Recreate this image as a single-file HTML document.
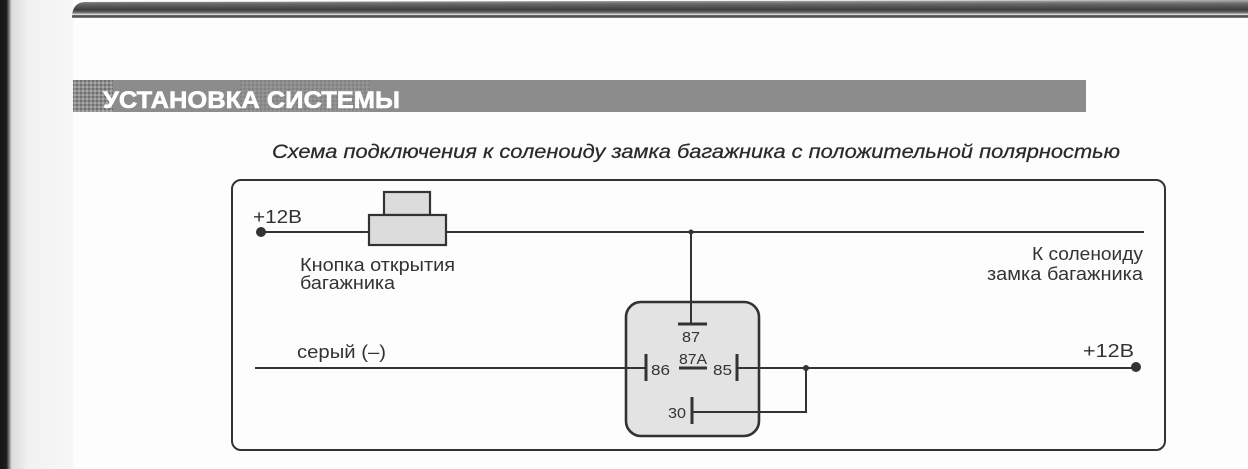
<!DOCTYPE html>
<html><head><meta charset="utf-8"><style>
html,body{margin:0;padding:0;background:#fdfdfd;}
svg{display:block;}
text{font-family:"Liberation Sans","DejaVu Sans",sans-serif;}
</style></head><body>
<svg width="1248" height="469" viewBox="0 0 1248 469" xmlns="http://www.w3.org/2000/svg">
<defs>
<linearGradient id="lg" x1="0" x2="1" y1="0" y2="0">
<stop offset="0" stop-color="#151515"/>
<stop offset="0.09" stop-color="#1e1e1e"/>
<stop offset="0.16" stop-color="#dcdcdc"/>
<stop offset="0.4" stop-color="#f2f2f2"/>
<stop offset="1" stop-color="#f6f6f6"/>
</linearGradient>
<linearGradient id="tg" x1="0" x2="0" y1="0" y2="1">
<stop offset="0" stop-color="#b0b0b0"/>
<stop offset="0.2" stop-color="#6a6a6a"/>
<stop offset="0.55" stop-color="#3c3c3c"/>
<stop offset="0.72" stop-color="#7a7a7a"/>
<stop offset="0.8" stop-color="#f0f0f0"/>
<stop offset="0.88" stop-color="#3a3a3a"/>
<stop offset="1" stop-color="#8a8a8a"/>
</linearGradient>
<pattern id="dots" width="4" height="4" patternUnits="userSpaceOnUse">
<rect width="4" height="4" fill="#8e8e8e"/>
<rect width="2" height="2" fill="#6f6f6f"/>
<rect x="2" y="2" width="2" height="2" fill="#a8a8a8"/>
</pattern>
</defs>
<rect x="0" y="0" width="1248" height="469" fill="#fdfdfd"/>
<rect x="0" y="0" width="73" height="469" fill="url(#lg)"/>
<path d="M72 18 Q72 3 84 2 L1248 0 L1248 18 Z" fill="url(#tg)"/>
<rect x="73" y="80" width="1013" height="32" fill="#8c8c8c"/>
<rect x="73" y="80" width="40" height="32" fill="url(#dots)"/>
<rect x="240" y="80" width="130" height="32" fill="url(#dots)" opacity="0.35"/>
<text x="103" y="108" font-size="24" font-weight="bold" fill="#ffffff" stroke="#ffffff" stroke-width="0.6" textLength="297" lengthAdjust="spacingAndGlyphs">УСТАНОВКА СИСТЕМЫ</text>
<text x="272" y="158" font-size="19" font-style="italic" fill="#2a2a2a" stroke="#2a2a2a" stroke-width="0.25" textLength="848" lengthAdjust="spacingAndGlyphs">Схема подключения к соленоиду замка багажника с положительной  полярностью</text>
<rect x="232" y="180" width="933" height="270" rx="9" ry="9" fill="none" stroke="#333" stroke-width="2"/>
<g stroke="#333" stroke-width="2" fill="none">
<line x1="261" y1="232" x2="1144" y2="232"/>
<line x1="691" y1="232" x2="691" y2="324"/>
<line x1="255" y1="368" x2="646" y2="368"/>
<line x1="737" y1="368" x2="1137" y2="368"/>
<polyline points="806,368 806,412 692,412"/>
</g>
<rect x="384" y="192" width="46" height="23" fill="#dcdcdc" stroke="#333" stroke-width="2.2"/>
<rect x="369" y="215" width="77" height="30" fill="#dcdcdc" stroke="#333" stroke-width="2.2"/>
<circle cx="261" cy="232" r="5" fill="#333"/>
<circle cx="1136" cy="367" r="5" fill="#333"/>
<circle cx="691" cy="232" r="2.5" fill="#333"/>
<circle cx="806" cy="368" r="3" fill="#333"/>
<rect x="626" y="302" width="133" height="134" rx="15" ry="15" fill="#e3e3e3" stroke="#333" stroke-width="2.6"/>
<line x1="691" y1="302" x2="691" y2="324" stroke="#333" stroke-width="2"/>
<g stroke="#333" stroke-width="3">
<line x1="678" y1="324" x2="707" y2="324"/>
<line x1="679" y1="368" x2="707" y2="368"/>
<line x1="646" y1="354" x2="646" y2="381"/>
<line x1="737" y1="354" x2="737" y2="381"/>
<line x1="692" y1="397" x2="692" y2="424"/>
</g>
<g stroke="#333" stroke-width="2">
<line x1="626" y1="368" x2="646" y2="368"/>
<line x1="737" y1="368" x2="759" y2="368"/>
<line x1="692" y1="412" x2="759" y2="412"/>
</g>
<g font-size="15" fill="#333">
<text x="682" y="342" textLength="18" lengthAdjust="spacingAndGlyphs">87</text>
<text x="679" y="364" textLength="28" lengthAdjust="spacingAndGlyphs">87A</text>
<text x="651" y="375" textLength="19" lengthAdjust="spacingAndGlyphs">86</text>
<text x="713" y="375" textLength="19" lengthAdjust="spacingAndGlyphs">85</text>
<text x="668" y="418" textLength="18" lengthAdjust="spacingAndGlyphs">30</text>
</g>
<g font-size="18" fill="#333">
<text x="253" y="223" textLength="49" lengthAdjust="spacingAndGlyphs">+12В</text>
<text x="300" y="271" textLength="155" lengthAdjust="spacingAndGlyphs">Кнопка открытия</text>
<text x="300" y="289" textLength="95" lengthAdjust="spacingAndGlyphs">багажника</text>
<text x="1032" y="260" textLength="111" lengthAdjust="spacingAndGlyphs">К соленоиду</text>
<text x="987" y="280" textLength="156" lengthAdjust="spacingAndGlyphs">замка багажника</text>
<text x="297" y="358" textLength="89" lengthAdjust="spacingAndGlyphs">серый  (–)</text>
<text x="1083" y="357" textLength="51" lengthAdjust="spacingAndGlyphs">+12В</text>
</g>
</svg>
</body></html>
